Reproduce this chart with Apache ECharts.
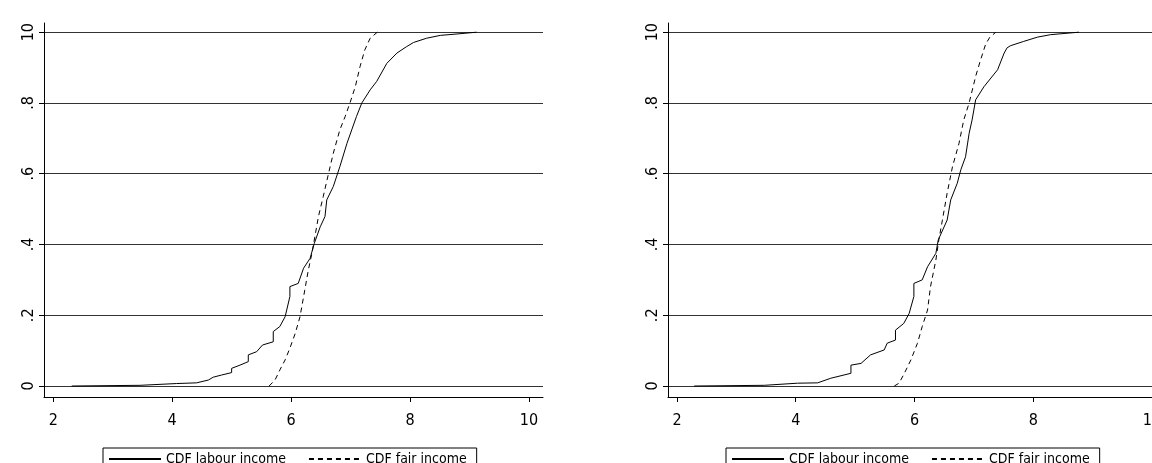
<!DOCTYPE html>
<html>
<head>
<meta charset="utf-8">
<script src="https://cdn.jsdelivr.net/npm/echarts@6/dist/echarts.min.js"></script>
<style>
html,body{margin:0;padding:0;background:#fff;overflow:hidden;}
#chart{width:1152px;height:463px;}
</style>
</head>
<body>
<div id="chart"></div>
<script>
// ---- data ----
const seriesNames = ['CDF labour income', 'CDF fair income'];

const yTickVals = [0, 0.2, 0.4, 0.6, 0.8, 1];
const yTickLabels = ['0', '.2', '.4', '.6', '.8', '10'];
const xTickVals = [2, 4, 6, 8, 10];
const xTickLabels = ['2', '4', '6', '8', '10'];

// left panel
const leftLabourX = [2.31,3.46,4.07,4.41,4.61,4.69,4.83,5.00,5.00,5.14,5.28,5.28,5.42,5.52,5.70,5.70,5.81,5.90,5.98,5.98,6.12,6.21,6.32,6.39,6.49,6.57,6.60,6.71,6.82,6.94,7.02,7.10,7.19,7.33,7.44,7.61,7.78,7.94,8.06,8.28,8.51,8.79,9.12];
const leftLabourY = [0,0.002,0.007,0.009,0.017,0.025,0.031,0.038,0.050,0.059,0.069,0.088,0.097,0.116,0.125,0.154,0.168,0.196,0.253,0.281,0.290,0.333,0.361,0.403,0.450,0.479,0.526,0.564,0.620,0.686,0.724,0.762,0.800,0.837,0.861,0.912,0.941,0.959,0.971,0.983,0.991,0.995,1.0];
const leftFairX = [5.63,5.73,5.81,5.90,5.98,6.07,6.15,6.23,6.29,6.35,6.40,6.46,6.54,6.63,6.71,6.82,6.91,6.99,7.08,7.16,7.24,7.33,7.45];
const leftFairY = [0,0.017,0.045,0.074,0.107,0.149,0.196,0.271,0.328,0.375,0.422,0.479,0.535,0.601,0.658,0.724,0.762,0.800,0.846,0.903,0.950,0.983,1.0];

// right panel
const rightLabourX = [2.29,3.47,4.03,4.37,4.59,4.93,4.93,5.10,5.26,5.49,5.54,5.68,5.68,5.82,5.91,5.99,5.99,6.13,6.22,6.36,6.40,6.55,6.61,6.72,6.78,6.86,6.92,6.97,7.03,7.17,7.40,7.51,7.56,7.62,7.84,8.07,8.29,8.77];
const rightLabourY = [0,0.002,0.008,0.009,0.022,0.036,0.059,0.064,0.088,0.102,0.121,0.130,0.158,0.177,0.205,0.253,0.290,0.300,0.337,0.375,0.413,0.469,0.526,0.573,0.611,0.648,0.714,0.752,0.809,0.846,0.894,0.941,0.956,0.962,0.974,0.986,0.993,1.0];
const rightFairX = [5.66,5.74,5.83,5.94,6.05,6.13,6.22,6.27,6.36,6.41,6.47,6.55,6.64,6.75,6.83,6.92,7.03,7.11,7.20,7.27,7.37];
const rightFairY = [0,0.008,0.036,0.074,0.121,0.168,0.215,0.281,0.356,0.413,0.469,0.545,0.620,0.686,0.752,0.800,0.875,0.920,0.967,0.986,1.0];

// ---- build ----
const zip = (xs, ys) => xs.map((x, i) => [x, ys[i]]);
const FONT = "'Liberation Sans Narrow', 'DejaVu Sans Condensed', 'Liberation Sans', sans-serif";

function xAxisFor(gridIndex, min, max) {
  return {
    type: 'value', gridIndex, min, max,
    axisLine: { show: true, onZero: false, lineStyle: { color: '#000', width: 1 } },
    axisTick: { show: true, customValues: xTickVals, length: 5, lineStyle: { color: '#000' } },
    axisLabel: {
      customValues: xTickVals, margin: 16, fontSize: 16, color: '#000', fontFamily: FONT,
      formatter: v => xTickLabels[xTickVals.indexOf(v)]
    },
    splitLine: { show: false }
  };
}
function yAxisFor(gridIndex) {
  return {
    type: 'value', gridIndex, min: -0.031, max: 1.026,
    axisLine: { show: true, onZero: false, lineStyle: { color: '#000', width: 1 } },
    axisTick: { show: true, customValues: yTickVals, length: 5, lineStyle: { color: '#000' } },
    axisLabel: {
      customValues: yTickVals, rotate: 90, margin: 7, fontSize: 16, color: '#000', fontFamily: FONT,
      formatter: v => yTickLabels[yTickVals.indexOf(v)]
    },
    splitLine: { show: true, lineStyle: { color: '#333', width: 1 } }
  };
}
function lineSeries(name, data, idx, dashed) {
  return {
    type: 'line', name, data, xAxisIndex: idx, yAxisIndex: idx,
    symbol: 'none', showSymbol: false, silent: true,
    lineStyle: { color: '#000', width: 1, type: dashed ? [5, 4] : 'solid' },
    itemStyle: { color: '#000' }
  };
}
function legendAt(left) {
  return {
    left, top: 448, orient: 'horizontal', data: seriesNames, selectedMode: false,
    itemWidth: 52, itemHeight: 12, itemGap: 22,
    itemStyle: { color: 'rgba(0,0,0,0)', borderWidth: 0, opacity: 0 },
    borderColor: '#000', borderWidth: 1, borderRadius: 0, padding: [4, 10, 4, 5],
    textStyle: { fontSize: 14, color: '#000', fontFamily: FONT }
  };
}

const chart = echarts.init(document.getElementById('chart'), null, { renderer: 'canvas' });
chart.setOption({
  animation: false,
  backgroundColor: '#fff',
  textStyle: { fontFamily: FONT },
  grid: [
    { left: 44, top: 23, width: 499, height: 374, outerBoundsMode: 'none', containLabel: false },
    { left: 668, top: 23, right: 0, height: 374, outerBoundsMode: 'none', containLabel: false }
  ],
  xAxis: [xAxisFor(0, 1.844, 10.237), xAxisFor(1, 1.849, 10.0)],
  yAxis: [yAxisFor(0), yAxisFor(1)],
  legend: [legendAt(103), legendAt(726)],
  series: [
    lineSeries(seriesNames[0], zip(leftLabourX, leftLabourY), 0, false),
    lineSeries(seriesNames[1], zip(leftFairX, leftFairY), 0, true),
    lineSeries(seriesNames[0], zip(rightLabourX, rightLabourY), 1, false),
    lineSeries(seriesNames[1], zip(rightFairX, rightFairY), 1, true)
  ]
});
</script>
</body>
</html>
